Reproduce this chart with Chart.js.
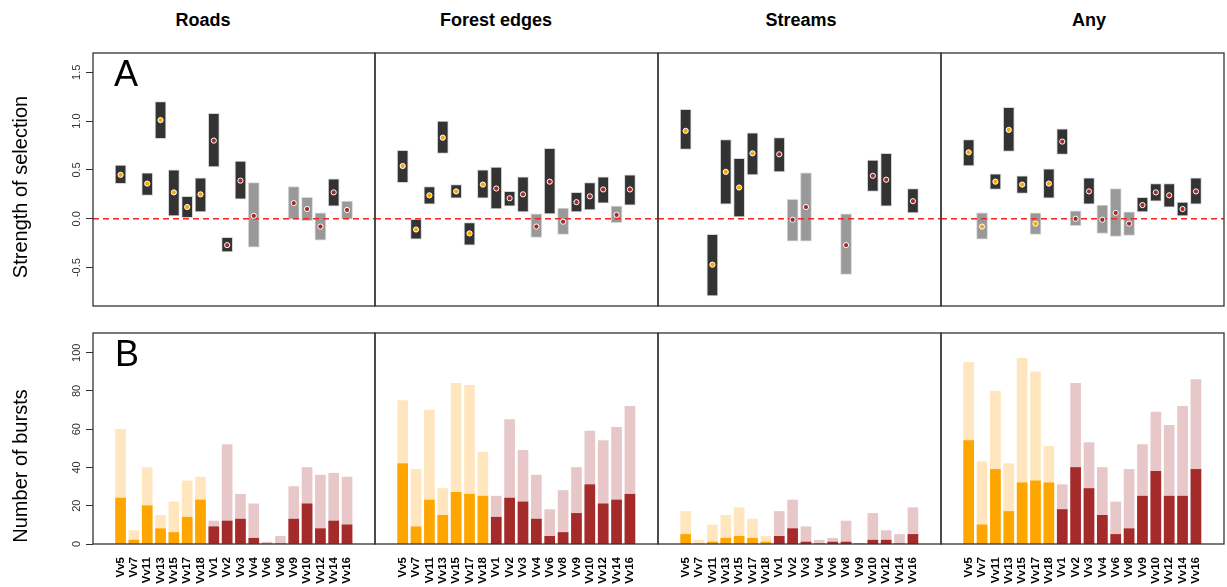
<!DOCTYPE html>
<html><head><meta charset="utf-8">
<script src="https://cdn.jsdelivr.net/npm/chart.js@4"></script>
<style>
html,body{margin:0;padding:0;background:#fff;overflow:hidden}
body{width:1227px;height:587px;position:relative;font-family:"Liberation Sans",Arial,sans-serif}
canvas{position:absolute}
.t{position:absolute;white-space:nowrap;color:#000;text-align:center}
</style></head><body>
<script>
// ---------------- DATA ----------------
const categories = ['Vv5','Vv7','Vv11','Vv13','Vv15','Vv17','Vv18','Vv1','Vv2','Vv3','Vv4','Vv6','Vv8','Vv9','Vv10','Vv12','Vv14','Vv16'];
const groups = ['F','F','F','F','F','F','F','M','M','M','M','M','M','M','M','M','M','M'];
const habitats = ['Roads','Forest edges','Streams','Any'];

// Panel A: strength of selection (estimate, lower CI, upper CI); null = not estimated
const roadsEst = [0.45, null, 0.36, 1.01, 0.27, 0.12, 0.25, 0.80, -0.27, 0.39, 0.03, null, null, 0.16, 0.10, -0.08, 0.27, 0.09];
const roadsLo  = [0.36, null, 0.24, 0.82, 0.03, 0.01, 0.07, 0.53, -0.34, 0.20, -0.29, null, null, -0.005, -0.02, -0.22, 0.13, -0.005];
const roadsHi  = [0.55, null, 0.47, 1.20, 0.50, 0.23, 0.42, 1.08, -0.19, 0.59, 0.37, null, null, 0.33, 0.22, 0.06, 0.41, 0.18];

const forestEst = [0.54, -0.11, 0.24, 0.83, 0.28, -0.15, 0.35, 0.31, 0.21, 0.25, -0.08, 0.38, -0.03, 0.17, 0.23, 0.30, 0.04, 0.30];
const forestLo  = [0.37, -0.21, 0.15, 0.67, 0.21, -0.27, 0.21, 0.10, 0.13, 0.07, -0.19, 0.05, -0.16, 0.07, 0.09, 0.16, -0.04, 0.14];
const forestHi  = [0.70, -0.005, 0.33, 1.00, 0.35, -0.04, 0.50, 0.53, 0.28, 0.43, 0.05, 0.72, 0.11, 0.27, 0.37, 0.43, 0.13, 0.45];

const streamsEst = [0.90, null, -0.47, 0.48, 0.32, 0.67, null, 0.66, -0.01, 0.12, null, null, -0.27, null, 0.44, 0.40, null, 0.18];
const streamsLo  = [0.71, null, -0.79, 0.15, 0.02, 0.45, null, 0.48, -0.23, -0.23, null, null, -0.57, null, 0.28, 0.13, null, 0.06];
const streamsHi  = [1.12, null, -0.16, 0.81, 0.62, 0.88, null, 0.83, 0.20, 0.47, null, null, 0.05, null, 0.60, 0.67, null, 0.31];

const anyEst = [0.68, -0.08, 0.38, 0.91, 0.35, -0.05, 0.36, 0.79, 0.00, 0.28, -0.01, 0.06, -0.05, 0.14, 0.27, 0.24, 0.10, 0.28];
const anyLo  = [0.54, -0.21, 0.30, 0.69, 0.26, -0.16, 0.21, 0.66, -0.07, 0.15, -0.15, -0.18, -0.17, 0.07, 0.18, 0.12, 0.03, 0.15];
const anyHi  = [0.81, 0.06, 0.46, 1.14, 0.44, 0.06, 0.51, 0.92, 0.08, 0.42, 0.14, 0.31, 0.07, 0.22, 0.36, 0.36, 0.17, 0.42];

// Panel B: number of bursts (total, and those near the feature)
const roadsTotal   = [60, 7, 40, 15, 22, 33, 35, 12, 52, 26, 21, 1, 4, 30, 40, 36, 37, 35];
const roadsNear    = [24, 2, 20, 8, 6, 14, 23, 9, 12, 13, 3, 0, 0, 13, 21, 8, 12, 10];
const forestTotal  = [75, 39, 70, 29, 84, 83, 48, 25, 65, 49, 36, 18, 28, 40, 59, 54, 61, 72];
const forestNear   = [42, 9, 23, 15, 27, 26, 25, 14, 24, 22, 13, 4, 6, 16, 31, 21, 23, 26];
const streamsTotal = [17, 2, 10, 15, 19, 13, 4, 17, 23, 9, 2, 3, 12, 0, 16, 7, 5, 19];
const streamsNear  = [5, 0, 1, 3, 4, 3, 1, 4, 8, 1, 0, 1, 1, 0, 2, 2, 0, 5];
const anyTotal     = [95, 43, 80, 42, 97, 90, 51, 31, 84, 53, 40, 22, 39, 52, 69, 62, 72, 86];
const anyNear      = [54, 10, 39, 17, 32, 33, 32, 18, 40, 29, 15, 5, 8, 25, 38, 25, 25, 39];

const selTicks = [-0.5, 0, 0.5, 1.0, 1.5];
const burstTicks = [0, 20, 40, 60, 80, 100];
const selRange = [-0.893, 1.697];
const burstRange = [0, 110.3];

// ---------------- STYLE / LAYOUT ----------------
const FONT = '"Liberation Sans", Arial, sans-serif';
const DARK = '#333333', GRAY = '#999999';
const ORANGE = '#FFA500', DARKRED = '#A52A2A';
const LIGHTOR = '#FFE6BF', LIGHTRED = '#E8C7C9';
const COL_L = [93, 375, 658, 941], COL_R = [375, 658, 941, 1224];
const ROWS = [{top:53, bottom:306}, {top:333, bottom:544}];
const PAD = 4, YAXW = 93, XAXH = 42;
const XMIN = -2.07, XMAX = 19.1;

function addText(txt, css){
  const d = document.createElement('div');
  d.className = 't'; d.textContent = txt;
  Object.assign(d.style, css);
  document.body.appendChild(d);
}

function makeCanvas(r, c){
  const cv = document.createElement('canvas');
  const left = c === 0 ? COL_L[0] - YAXW : COL_L[c] - PAD;
  const areaW = COL_R[c] - COL_L[c];
  const w = (c === 0 ? YAXW : PAD) + areaW + PAD;
  const top = ROWS[r].top - PAD;
  const areaH = ROWS[r].bottom - ROWS[r].top;
  const h = PAD + areaH + (r === 1 ? XAXH : PAD);
  cv.width = w; cv.height = h;
  cv.style.left = left + 'px'; cv.style.top = top + 'px';
  cv.style.width = w + 'px'; cv.style.height = h + 'px';
  document.body.appendChild(cv);
  return cv;
}

const boxPlugin = {
  id: 'box',
  afterDraw(chart){
    const a = chart.chartArea, ctx = chart.ctx;
    ctx.save(); ctx.strokeStyle = '#333'; ctx.lineWidth = 1.3;
    ctx.strokeRect(a.left, a.top, a.right - a.left, a.bottom - a.top);
    ctx.restore();
  }
};
const zeroPlugin = {
  id: 'zero',
  afterDatasetDraw(chart, args, opts){
    if (!opts.show || args.index !== 0) return;
    const a = chart.chartArea, ctx = chart.ctx, y = chart.scales.y.getPixelForValue(0);
    ctx.save(); ctx.strokeStyle = '#FF2020'; ctx.lineWidth = 1.4; ctx.setLineDash([6, 4]);
    ctx.beginPath(); ctx.moveTo(a.left, y); ctx.lineTo(a.right, y); ctx.stroke();
    ctx.restore();
  }
};
const yLabPlugin = {
  id: 'yLab',
  afterDraw(chart, args, opts){
    if (!opts.show) return;
    const s = chart.scales.y, ctx = chart.ctx;
    ctx.save(); ctx.fillStyle = '#333'; ctx.font = '11px ' + FONT;
    ctx.textAlign = 'center'; ctx.textBaseline = 'alphabetic';
    s.ticks.forEach(t => {
      const y = s.getPixelForValue(t.value);
      const lab = opts.kind === 'sel' ? t.value.toFixed(1) : String(t.value);
      ctx.save(); ctx.translate(chart.chartArea.left - 13, y); ctx.rotate(-Math.PI / 2);
      ctx.fillText(lab, 0, 0); ctx.restore();
    });
    ctx.restore();
  }
};

function yScale(c, range, ticks){
  const sc = {
    type: 'linear', min: range[0], max: range[1], display: c === 0,
    afterBuildTicks: s => { s.ticks = ticks.map(v => ({value: v})); },
    ticks: {display: false},
    grid: {display: true, drawOnChartArea: false, drawTicks: true, tickLength: 7, color: '#333', lineWidth: 1},
    border: {display: false}
  };
  if (c === 0) sc.afterFit = s => { s.width = YAXW; };
  return sc;
}

function topChart(c, est, lo, hi){
  const cv = makeCanvas(0, c);
  const bars = [], barCols = [], pts = [], ptCols = [];
  categories.forEach((cat, i) => {
    if (est[i] == null) return;
    bars.push({x: i, y: [lo[i], hi[i]]});
    barCols.push(lo[i] < 0 && hi[i] > 0 ? GRAY : DARK);
    pts.push({x: i, y: est[i]});
    ptCols.push(groups[i] === 'F' ? ORANGE : DARKRED);
  });
  new Chart(cv, {
    type: 'bar',
    data: {datasets: [
      {type: 'bar', data: bars, backgroundColor: barCols, borderColor: '#d6d6d6', borderWidth: 1, borderSkipped: false, barThickness: 11, order: 1},
      {type: 'line', data: pts, showLine: false, pointRadius: 2.6, pointBackgroundColor: ptCols, pointBorderColor: '#ffffff', pointBorderWidth: 1, order: 0}
    ]},
    options: {
      responsive: false, animation: false, events: [],
      layout: {autoPadding: false, padding: {left: c === 0 ? 0 : PAD, right: PAD, top: PAD, bottom: PAD}},
      plugins: {legend: {display: false}, tooltip: {enabled: false}, zero: {show: true}, yLab: {show: c === 0, kind: 'sel'}},
      scales: {
        x: {type: 'linear', min: XMIN, max: XMAX, offset: false, display: false},
        y: yScale(c, selRange, selTicks)
      }
    },
    plugins: [boxPlugin, zeroPlugin, yLabPlugin]
  });
}

function bottomChart(c, total, near){
  const cv = makeCanvas(1, c);
  const tot = categories.map((_, i) => ({x: i, y: total[i]}));
  const nr = categories.map((_, i) => ({x: i, y: near[i]}));
  const darkCols = groups.map(g => g === 'F' ? ORANGE : DARKRED);
  const lightCols = groups.map(g => g === 'F' ? LIGHTOR : LIGHTRED);
  new Chart(cv, {
    type: 'bar',
    data: {datasets: [
      {data: nr, backgroundColor: darkCols, grouped: false, barThickness: 10, borderWidth: 0, order: 0},
      {data: tot, backgroundColor: lightCols, grouped: false, barThickness: 10, borderWidth: 0, order: 1}
    ]},
    options: {
      responsive: false, animation: false, events: [],
      layout: {autoPadding: false, padding: {left: c === 0 ? 0 : PAD, right: PAD, top: PAD, bottom: 0}},
      plugins: {legend: {display: false}, tooltip: {enabled: false}, zero: {show: false}, yLab: {show: c === 0, kind: 'n'}},
      scales: {
        x: {
          type: 'linear', min: XMIN, max: XMAX, offset: false,
          afterBuildTicks: s => { s.ticks = categories.map((_, i) => ({value: i})); },
          afterFit: s => { s.height = XAXH; },
          ticks: {autoSkip: false, minRotation: 90, maxRotation: 90, padding: 13, color: '#000',
                  font: {family: FONT, size: 11.5, weight: 'bold'}, callback: v => categories[v]},
          grid: {display: false, drawTicks: false},
          border: {display: false}
        },
        y: yScale(c, burstRange, burstTicks)
      }
    },
    plugins: [boxPlugin, zeroPlugin, yLabPlugin]
  });
}

topChart(0, roadsEst, roadsLo, roadsHi);
topChart(1, forestEst, forestLo, forestHi);
topChart(2, streamsEst, streamsLo, streamsHi);
topChart(3, anyEst, anyLo, anyHi);
bottomChart(0, roadsTotal, roadsNear);
bottomChart(1, forestTotal, forestNear);
bottomChart(2, streamsTotal, streamsNear);
bottomChart(3, anyTotal, anyNear);

// titles and labels
const titleCenters = [203, 496, 801, 1089];
habitats.forEach((h, i) => addText(h, {left: (titleCenters[i] - 150) + 'px', top: '10.8px', width: '300px',
  font: 'bold 18px ' + FONT, lineHeight: '18px'}));
addText('A', {left: '114px', top: '55.5px', font: '36px ' + FONT, lineHeight: '36px', textAlign: 'left'});
addText('B', {left: '115px', top: '335.5px', font: '36px ' + FONT, lineHeight: '36px', textAlign: 'left'});
addText('Strength of selection', {left: (20 - 150) + 'px', top: (186.5 - 10) + 'px', width: '300px', height: '20px',
  font: '20px ' + FONT, lineHeight: '20px', transform: 'rotate(-90deg)'});
addText('Number of bursts', {left: (20 - 150) + 'px', top: (465.8 - 10) + 'px', width: '300px', height: '20px',
  font: '20px ' + FONT, lineHeight: '20px', transform: 'rotate(-90deg)'});
</script>
</body></html>
